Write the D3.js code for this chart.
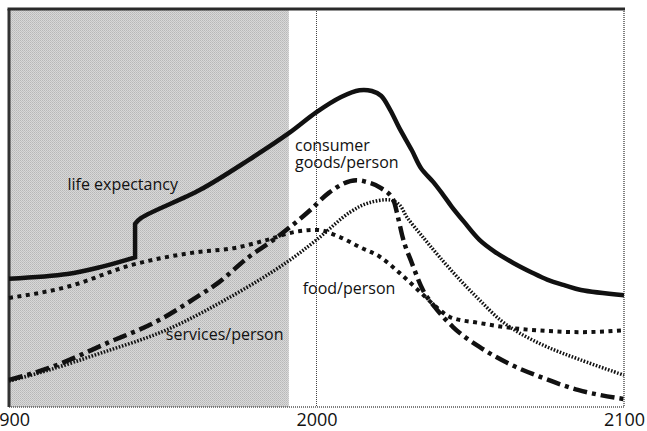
<!DOCTYPE html>
<html>
<head>
<meta charset="utf-8">
<script src="https://cdn.jsdelivr.net/npm/d3@7"></script>
<style>
  body { margin: 0; background: #fff; }
  svg { display: block; font-family: "Open Sans", "Noto Sans", sans-serif; }
</style>
</head>
<body>
<div id="chart"></div>
<script>
// values (relative scale 0-100, no y axis shown)
const tickYears = [1900, 2000, 2100];
const historyEnd = 1991;

// life expectancy, split at the jump around 1941
const lifeBefore = [[1900,32.2],[1919,33.4],[1930,35.2],[1941,37.6]];
const lifeAfter = [[1941,46.0],[1943,47.5],[1962,54.5],[1978,62.1],[1991,68.8],[2000,74.1],
  [2008,77.9],[2014,79.6],[2018,79.4],[2021,78.2],[2024,74.6],[2027,70.0],[2031,64.5],[2034,60.0],
  [2038,56.5],[2041,53.5],[2044,50.3],[2048,46.5],[2053,42.0],[2058,39.0],[2064,36.2],
  [2070,33.8],[2075,32.0],[2081,30.5],[2086,29.4],[2100,28.1]];

const consumerGoods = [[1900,6.8],[1913,9.8],[1932,16.1],[1949,21.9],[1961,27.6],[1968,31.2],
  [1978,37.7],[1986,42.0],[1998,49.5],[2004,53.8],[2013,57.0],[2016,56.6],[2021,55.0],
  [2025,52.0],[2026.5,47.7],[2028,42.7],[2031,36.2],[2034.6,29.4],[2038.5,25.1],[2044.4,20.1],
  [2053,15.1],[2062,11.1],[2073,7.5],[2085,4.3],[2100,2.0]];

const foodPerPerson = [[1900,27.4],[1919,30.2],[1940,35.7],[1961,38.9],[1973,39.9],[1984,42.0],
  [1993,44.0],[2000,44.5],[2007.6,42.7],[2014,40.2],[2020.7,37.7],[2027,33.7],[2033.7,28.9],
  [2039,25.1],[2043.4,22.6],[2053,21.1],[2064,19.8],[2075,19.1],[2086,18.8],[2100,19.3]];

const servicesPerPerson = [[1900,6.5],[1913,9.3],[1930,13.6],[1951,19.3],[1973,28.1],[1990,36.2],
  [2000,42.0],[2011,49.0],[2017,51.3],[2024,52.0],[2027,50.8],[2029.4,47.7],[2034.6,42.7],
  [2040,37.7],[2046.7,31.9],[2053,26.9],[2059.7,21.9],[2066,18.6],[2075,15.1],[2086,11.8],[2100,8.0]];

const labels = [
  {text: ["life expectancy"], year: 1919, value: 54.5},
  {text: ["consumer", "goods/person"], year: 1993, value: 64.2},
  {text: ["food/person"], year: 1995.5, value: 28.4},
  {text: ["services/person"], year: 1951, value: 16.8}
];

const width = 647, height = 431;
const margin = {top: 9, right: 23, bottom: 24, left: 9};

const svg = d3.select("#chart").append("svg")
  .attr("width", width)
  .attr("height", height);

const x = d3.scaleLinear().domain([1900, 2100]).range([margin.left, width - margin.right]);
const y = d3.scaleLinear().domain([0, 100]).range([height - margin.bottom, margin.top]);

// halftone-ish grey for the historical part
const defs = svg.append("defs");
const pat = defs.append("pattern")
  .attr("id", "halftone")
  .attr("width", 2).attr("height", 2)
  .attr("patternUnits", "userSpaceOnUse");
pat.append("rect").attr("width", 2).attr("height", 2).attr("fill", "#d8d8d8");
pat.append("rect").attr("width", 1).attr("height", 1).attr("fill", "#b8b8b8");
pat.append("rect").attr("x", 1).attr("y", 1).attr("width", 1).attr("height", 1).attr("fill", "#c2c2c2");

svg.append("rect")
  .attr("x", x(1900))
  .attr("y", y(100))
  .attr("width", x(historyEnd) - x(1900))
  .attr("height", y(0) - y(100))
  .attr("fill", "url(#halftone)");

// year 2000 marker
svg.append("line")
  .attr("x1", x(2000)).attr("x2", x(2000))
  .attr("y1", y(100)).attr("y2", y(0))
  .attr("stroke", "#444")
  .attr("stroke-width", 1)
  .attr("stroke-dasharray", "1,1");

// frame
svg.append("line")
  .attr("x1", x(2100)).attr("x2", x(2100)).attr("y1", y(100)).attr("y2", y(0))
  .attr("stroke", "#555").attr("stroke-width", 1.5).attr("stroke-dasharray", "1,1");
svg.append("line")
  .attr("x1", x(1900)).attr("x2", x(2100)).attr("y1", y(0)).attr("y2", y(0))
  .attr("stroke", "#555").attr("stroke-width", 1.5).attr("stroke-dasharray", "1,1");
svg.append("line")
  .attr("x1", x(1900)).attr("x2", x(1900)).attr("y1", y(100)).attr("y2", y(0))
  .attr("stroke", "#333").attr("stroke-width", 3);
svg.append("line")
  .attr("x1", x(1900) - 1.5).attr("x2", x(2100) + 1).attr("y1", y(100)).attr("y2", y(100))
  .attr("stroke", "#2a2a2a").attr("stroke-width", 3);

const line = d3.line()
  .x(d => x(d[0]))
  .y(d => y(d[1]))
  .curve(d3.curveMonotoneX);

const smooth = d3.line()
  .x(d => x(d[0]))
  .y(d => y(d[1]))
  .curve(d3.curveCatmullRom.alpha(0.5));

const lifePath = smooth(lifeBefore) + "L" + smooth(lifeAfter).slice(1);

svg.append("path")
  .attr("d", lifePath)
  .attr("fill", "none")
  .attr("stroke", "#111")
  .attr("stroke-width", 4.5)
  .attr("stroke-linejoin", "miter");

svg.append("path")
  .attr("d", line(foodPerPerson))
  .attr("fill", "none")
  .attr("stroke", "#111")
  .attr("stroke-width", 4)
  .attr("stroke-dasharray", "4,4.5");

svg.append("path")
  .attr("d", smooth(servicesPerPerson))
  .attr("fill", "none")
  .attr("stroke", "#111")
  .attr("stroke-width", 3.5)
  .attr("stroke-dasharray", "1.6,1.6");

svg.append("path")
  .attr("d", line(consumerGoods))
  .attr("fill", "none")
  .attr("stroke", "#111")
  .attr("stroke-width", 4.5)
  .attr("stroke-dasharray", "14,5,4,5");

// annotations
labels.forEach(l => {
  const t = svg.append("text")
    .attr("x", x(l.year))
    .attr("y", y(l.value))
    .attr("font-size", 16)
    .attr("fill", "#111");
  l.text.forEach((s, i) => {
    t.append("tspan")
      .attr("x", x(l.year))
      .attr("dy", i === 0 ? 0 : 17)
      .text(s);
  });
});

// x axis labels
const xAxis = d3.axisBottom(x)
  .tickValues(tickYears)
  .tickFormat(d3.format("d"))
  .tickSize(0)
  .tickPadding(6);

svg.append("g")
  .attr("transform", `translate(0,${y(0)})`)
  .call(xAxis)
  .call(g => g.select(".domain").remove())
  .call(g => g.selectAll("text")
    .attr("font-size", 18)
    .attr("font-family", "'Open Sans', 'Noto Sans', sans-serif")
    .attr("fill", "#111"));
</script>
</body>
</html>
